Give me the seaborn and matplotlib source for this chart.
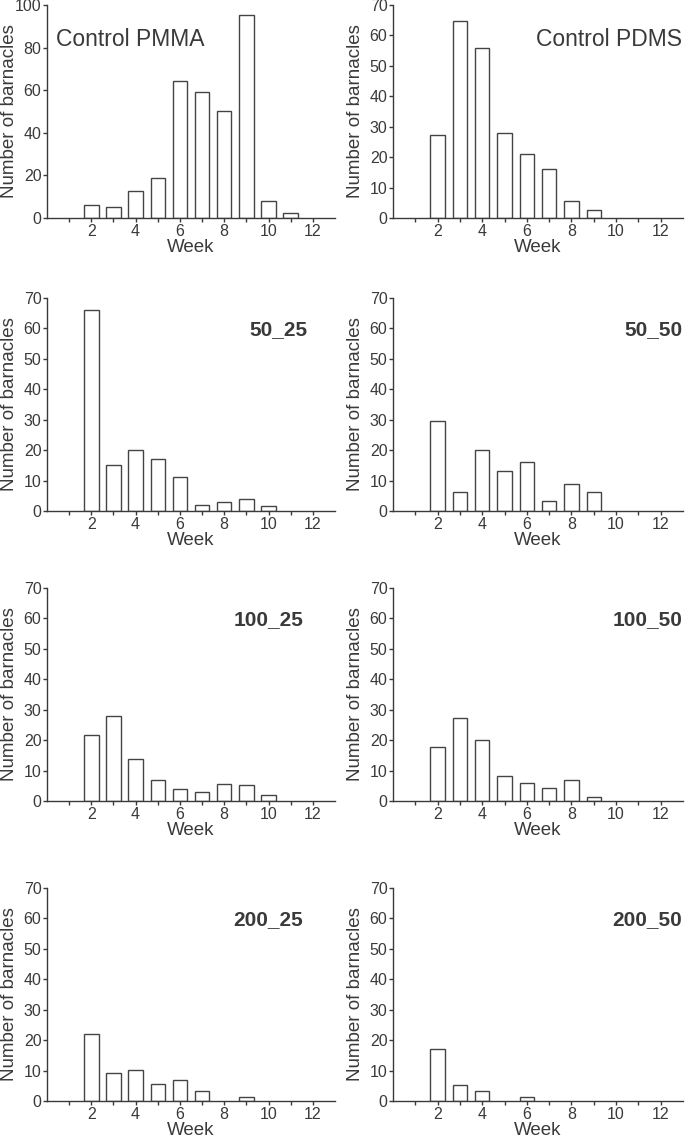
import numpy as np
import pandas as pd
import matplotlib
matplotlib.use("Agg")
import matplotlib.pyplot as plt
import seaborn as sns

weeks = [1, 2, 3, 4, 5, 6, 7, 8, 9, 10, 11, 12]
titles = ["Control PMMA", "Control PDMS", "50_25", "50_50", "100_25", "100_50", "200_25", "200_50"]
control_pmma = [0, 6, 5, 12.5, 19, 64.2, 59.3, 50.1, 95.4, 8, 2.2, 0]
control_pdms = [0, 27.3, 64.9, 55.9, 28.0, 21.0, 16.0, 5.6, 2.6, 0, 0, 0]
s50_25 = [0, 66.2, 15.0, 20.0, 17.0, 11.1, 2.0, 3.0, 4.1, 1.5, 0, 0]
s50_50 = [0, 29.7, 6.3, 20.1, 13.3, 16.1, 3.4, 8.8, 6.3, 0, 0, 0]
s100_25 = [0, 21.8, 27.9, 13.9, 6.8, 3.8, 2.9, 5.7, 5.4, 1.9, 0, 0]
s100_50 = [0, 17.9, 27.3, 20.0, 8.2, 5.8, 4.2, 6.8, 1.3, 0, 0, 0]
s200_25 = [0, 22.1, 9.3, 10.1, 5.7, 6.8, 3.2, 0, 1.2, 0, 0, 0]
s200_50 = [0, 17.1, 5.2, 3.3, 0, 1.2, 0, 0, 0, 0, 0, 0]
series = [control_pmma, control_pdms, s50_25, s50_50, s100_25, s100_50, s200_25, s200_50]
ymax = [100, 70, 70, 70, 70, 70, 70, 70]
ystep = [20, 10, 10, 10, 10, 10, 10, 10]
xtick_labels = ["", "2", "", "4", "", "6", "", "8", "", "10", "", "12"]

sns.set_theme(style="ticks")
plt.rcParams['font.family'] = ['Liberation Sans', 'DejaVu Sans']
dark = "#3a3a3a"
plt.rcParams.update({
    "axes.edgecolor": dark, "axes.labelcolor": dark, "xtick.color": dark,
    "ytick.color": dark, "text.color": dark, "axes.linewidth": 1.0,
    "xtick.major.size": 3.0, "ytick.major.size": 3.0,
    "xtick.major.width": 1.0, "ytick.major.width": 1.0,
})

W, H = 685, 1138
fig = plt.figure(figsize=(W / 100, H / 100), dpi=100)

col_left = [47, 393]
col_width = [288, 290]
row_top = [5, 298, 588, 888]
row_h = 213

label_pos = [
    (0.031, 0.836, "left", 16.5, "normal"),
    (0.997, 0.836, "right", 16.5, "normal"),
    (0.906, 0.85, "right", 15, "bold"),
    (0.997, 0.85, "right", 15, "bold"),
    (0.889, 0.85, "right", 15, "bold"),
    (0.997, 0.85, "right", 15, "bold"),
    (0.889, 0.85, "right", 15, "bold"),
    (0.997, 0.85, "right", 15, "bold"),
]

for i, (title, vals) in enumerate(zip(titles, series)):
    r, c = divmod(i, 2)
    left = col_left[c] / W
    bottom = 1 - (row_top[r] + row_h) / H
    ax = fig.add_axes([left, bottom, col_width[c] / W, row_h / H])
    df = pd.DataFrame({"week": weeks, "count": vals})
    df = df[df["count"] > 0]
    sns.barplot(data=df, x="week", y="count", native_scale=True, width=0.65,
                color="white", edgecolor="#444444", linewidth=1.0, ax=ax)
    ax.set_xlim(0, 13)
    ax.set_ylim(0, ymax[i])
    ax.set_xticks(weeks)
    ax.set_xticklabels(xtick_labels, fontsize=11.5)
    ax.set_yticks(np.arange(0, ymax[i] + 1, ystep[i]))
    ax.tick_params(axis="y", labelsize=11.5, pad=1)
    ax.tick_params(axis="x", pad=1.5)
    ax.set_xlabel("Week", fontsize=13.5, labelpad=0)
    ax.set_ylabel("Number of barnacles", fontsize=13.5)
    ax.yaxis.set_label_coords(-28.5 / col_width[c], 0.5)
    sns.despine(ax=ax)
    x, y, ha, fs, fw = label_pos[i]
    ax.text(x, y, title, transform=ax.transAxes, ha=ha, va="center",
            fontsize=fs, fontweight=fw)

fig.savefig("out.png", dpi=100)
